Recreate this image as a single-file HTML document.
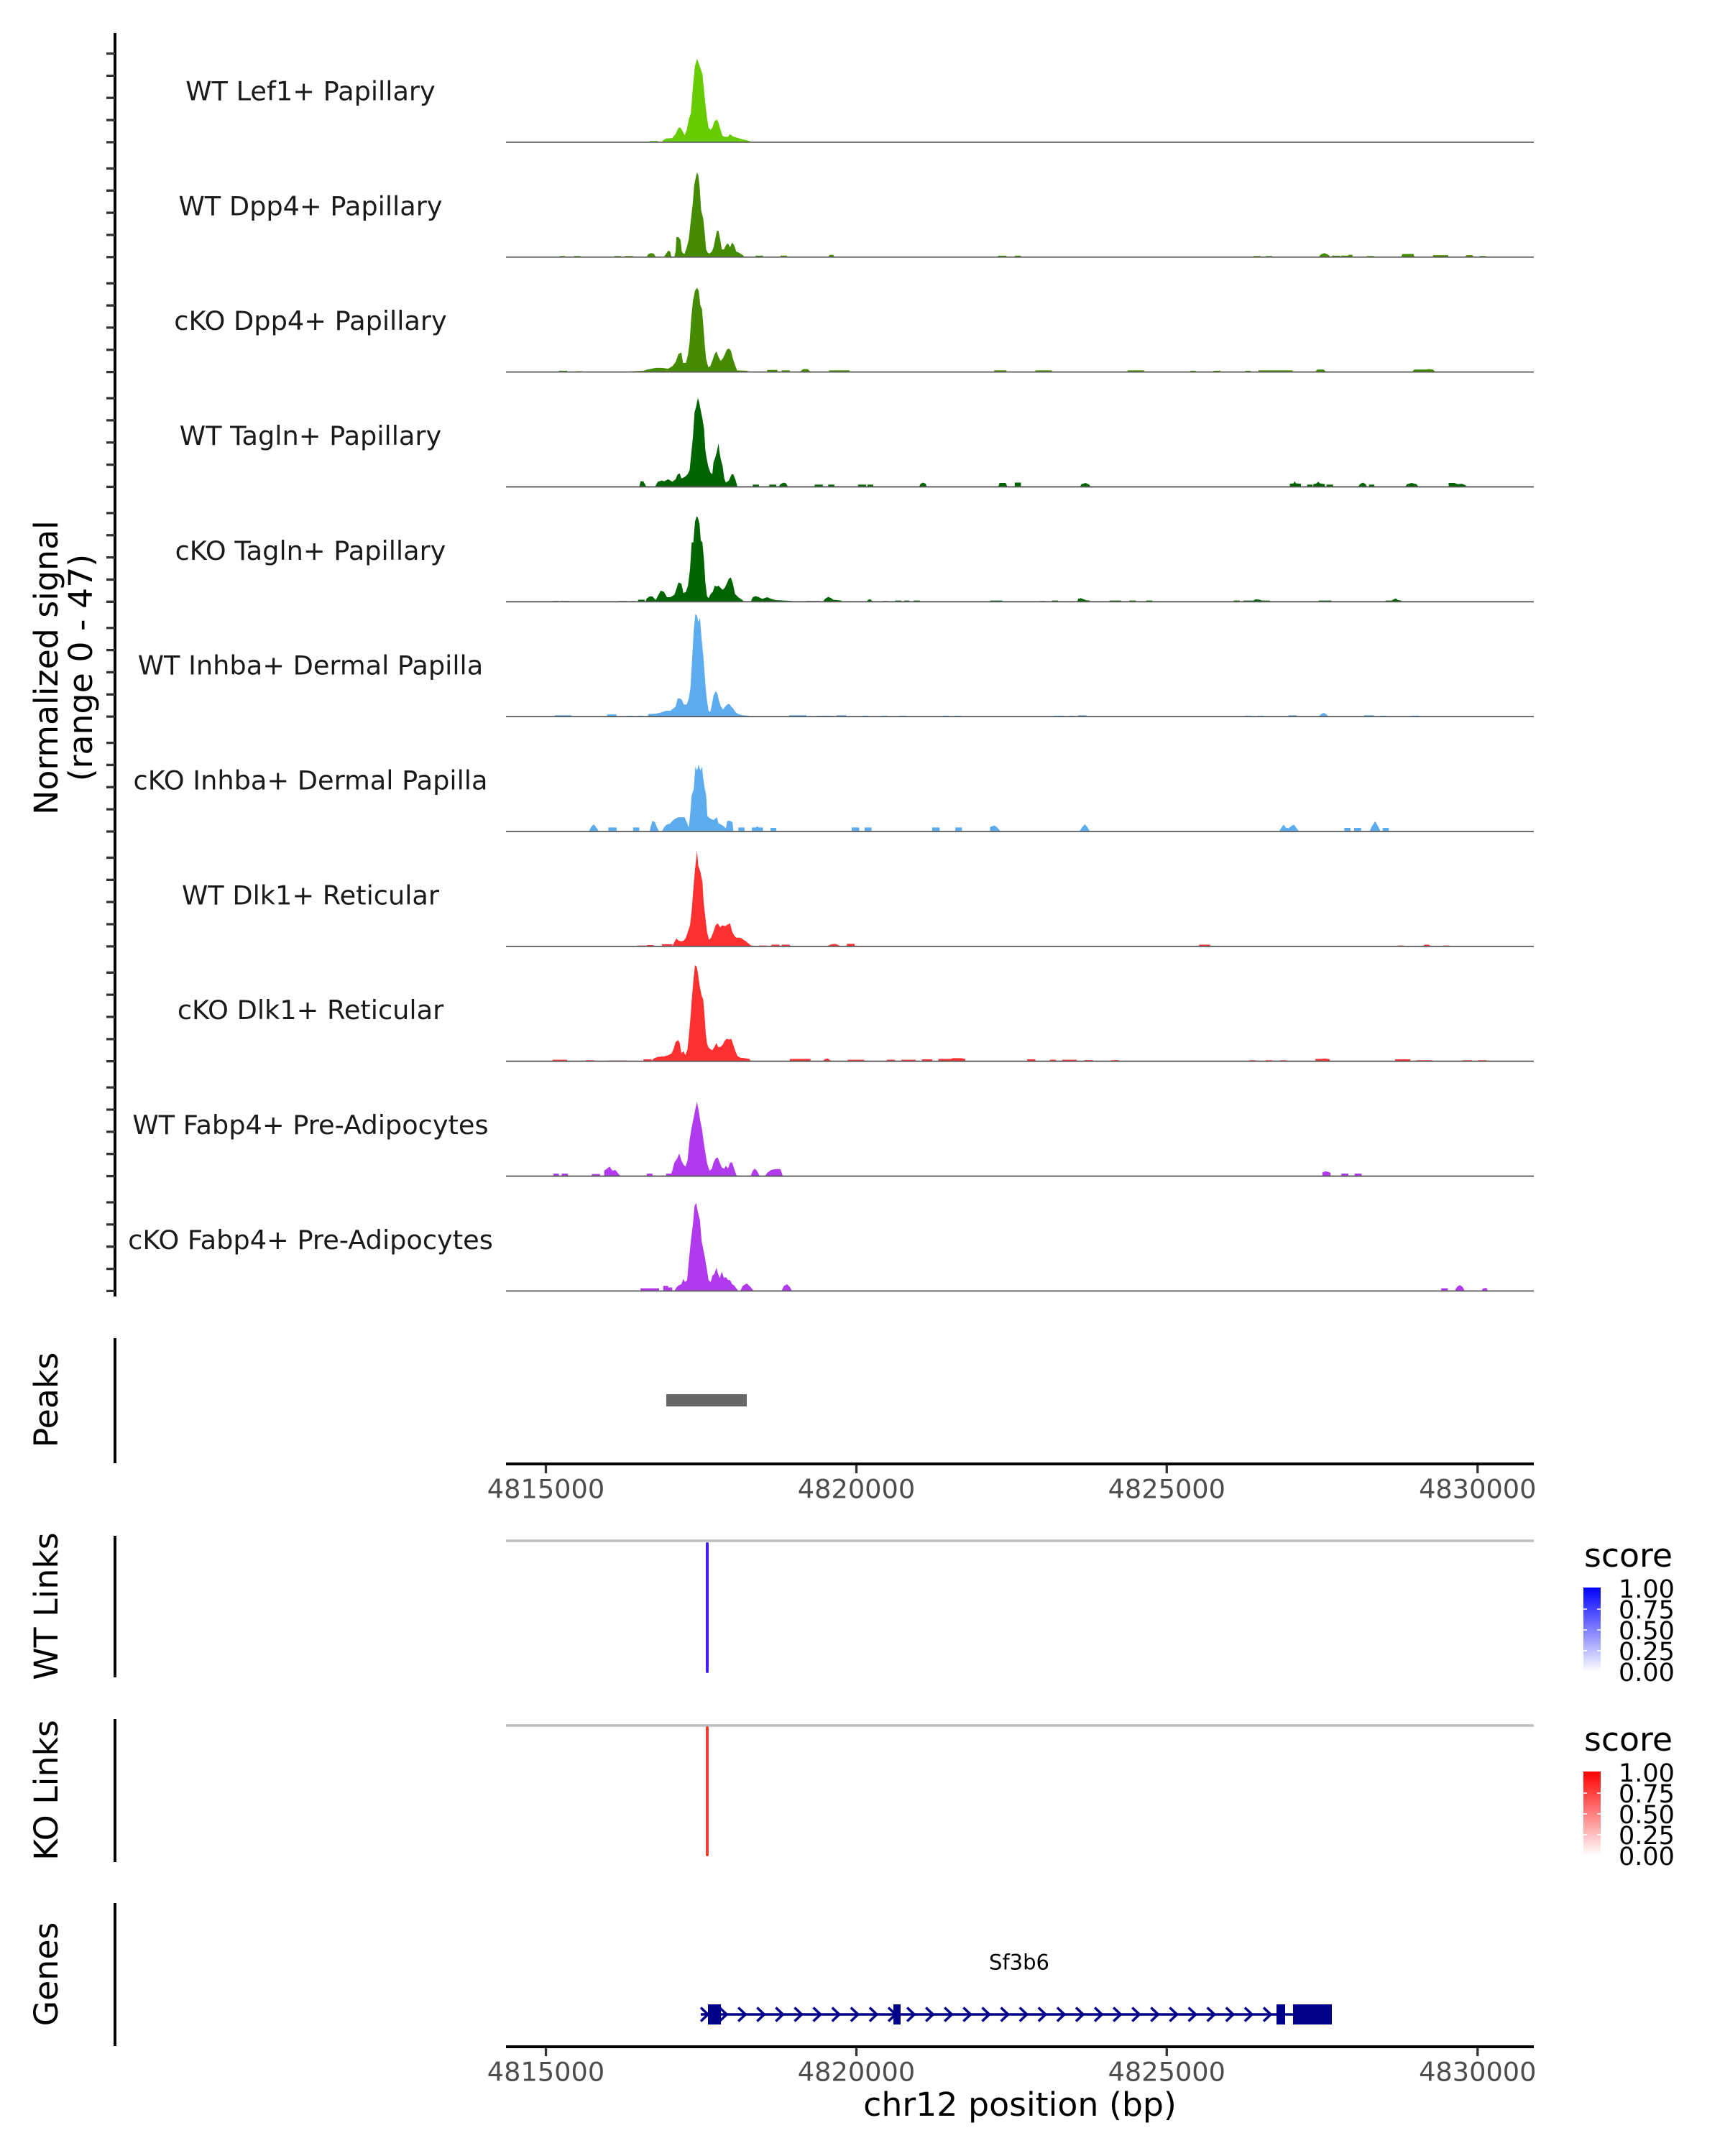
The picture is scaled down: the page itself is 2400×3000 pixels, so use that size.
<!DOCTYPE html>
<html><head><meta charset="utf-8"><style>html,body{margin:0;padding:0;background:#fff}svg{display:block}</style></head><body>
<svg xmlns="http://www.w3.org/2000/svg" width="2400" height="3000" viewBox="0 0 2400 3000" font-family="DejaVu Sans, Liberation Sans, sans-serif">
<defs>
<linearGradient id="gb" x1="0" y1="0" x2="0" y2="1"><stop offset="0" stop-color="#0000FF"/><stop offset="1" stop-color="#FFFFFF"/></linearGradient>
<linearGradient id="gr" x1="0" y1="0" x2="0" y2="1"><stop offset="0" stop-color="#FF0000"/><stop offset="1" stop-color="#FFFFFF"/></linearGradient>
</defs>
<rect width="2400" height="3000" fill="#fff"/>

<!-- Signal tracks, left/main region (zoom coords) -->
<g transform="translate(700,40) scale(0.57405)">
<path fill="#66CC00" d="M355 275V272H375V275Z M385 275L388 270L395 266L410 265L418 255L425 240L430 240L435 248L440 258L445 245L450 220L455 205L460 140L465 90L470 73L473 80L478 95L483 110L487 150L490 180L494 215L498 240L503 245L507 240L512 225L518 220L522 228L527 245L532 260L538 262L545 262L550 255L555 260L560 262L570 265L580 268L590 270L600 273L605 275Z"/>
<path fill="#458B00" d="M137 553V551H150V553Z M172 553V551H187V553Z M270 553V551H285V553Z M295 553V551H315V553Z M348 553L352 546L358 544L365 545L370 553Z M390 553L395 545L400 538L405 540L408 553Z M415 553L418 540L420 505L425 505L430 512L433 540L437 545L440 545L445 530L450 510L456 455L460 420L463 380L467 360L470 348L473 355L476 380L480 440L485 460L489 500L492 535L496 543L500 545L506 540L510 530L514 510L518 490L522 490L526 510L530 535L535 535L540 525L545 520L550 530L555 518L560 525L565 540L572 543L580 548L585 553Z M612 553V550H630V553Z M672 553V550H688V553Z M788 553L792 548L800 548L803 553Z M1200 553V550H1220V553Z M1240 553V550H1255V553Z"/>
<path fill="#458B00" d="M135 831V829H155V831Z M178 831V830H192V831Z M300 831L340 829L350 826L370 822L385 822L400 824L410 818L418 808L425 788L432 785L436 810L443 810L448 790L452 760L456 700L460 660L465 635L470 628L474 635L478 670L482 680L486 730L489 770L492 800L497 820L502 818L507 805L512 790L517 782L522 795L527 805L532 800L537 790L542 778L547 775L552 780L557 800L562 815L567 828L590 829L597 831Z M640 831V827H665V831Z M675 831V828H695V831Z M720 831L727 825L738 825L745 831Z M790 831V828H840V831Z M1190 831V828H1220V831Z M1290 831V828H1330V831Z M1515 831V829H1530V831Z"/>
<path fill="#006400" d="M330 1110L333 1097L340 1097L347 1110Z M368 1110L375 1098L385 1095L390 1097L400 1092L410 1098L418 1092L423 1080L428 1078L432 1090L437 1088L442 1085L447 1080L452 1070L456 1030L460 990L464 930L468 915L472 895L475 905L479 925L483 945L487 970L490 1020L493 1040L497 1060L502 1075L507 1080L510 1050L514 1040L518 1025L522 1005L525 1030L528 1045L532 1060L536 1090L540 1100L547 1095L554 1080L558 1080L563 1093L568 1110Z M605 1110V1105H620V1110Z M645 1110V1105H662V1110Z M668 1110L672 1104L680 1100L686 1102L690 1110Z M755 1110V1105H775V1110Z M788 1110V1105H803V1110Z M860 1110V1105H880V1110Z M883 1110V1105H897V1110Z M1008 1110L1012 1103L1018 1100L1024 1103L1027 1110Z M1200 1110L1203 1101H1218L1222 1110Z M1240 1110V1100H1255V1110Z M1397 1110L1402 1105L1410 1102L1418 1105L1425 1110Z"/>
<path fill="#006400" d="M120 1389V1387H135V1389Z M140 1389V1387H160V1389Z M280 1389V1387H300V1389Z M310 1389V1387H320V1389Z M327 1389V1384H343V1389Z M345 1389L348 1381L355 1376L362 1376L370 1385L375 1375L382 1362L390 1365L397 1378L405 1378L415 1372L420 1358L425 1342L432 1345L437 1368L443 1365L448 1350L453 1310L457 1245L461 1245L465 1195L469 1182L472 1185L476 1200L479 1240L483 1245L487 1290L490 1340L494 1375L498 1380L503 1370L508 1365L513 1350L518 1352L522 1350L527 1355L532 1360L537 1355L542 1345L547 1333L552 1330L557 1345L562 1370L570 1378L580 1385L585 1389Z M600 1389L605 1378L612 1375L620 1378L628 1382L640 1378L650 1382L660 1385L680 1386L700 1387L705 1389Z M735 1389V1387H768V1389Z M775 1389L780 1382L788 1377L795 1380L800 1384L820 1386V1389Z M880 1389L885 1384L890 1383L897 1389Z M920 1389V1387H935V1389Z M950 1389V1386H965V1389Z M972 1389V1386H985V1389Z M995 1389V1386H1010V1389Z M1180 1389V1386H1210V1389Z M1300 1389V1387H1315V1389Z M1330 1389V1386H1345V1389Z M1390 1389L1395 1382L1400 1380L1410 1384L1420 1389Z M1470 1389V1387H1495V1389Z M1520 1389V1387H1535V1389Z"/>
</g>

<g transform="translate(1500,40) scale(0.57405)">
<path fill="#458B00" d="M425 553V551H442V553Z M455 553V551H470V553Z M583 553L590 546L597 544L605 547L612 553Z M615 553V550H635V553Z M637 553V550H655V553Z M655 553V548H665V553Z M700 553V551H717V553Z M783 553L786 546H813L815 553Z M860 553V549H897V553Z M937 553L942 549H955L960 553Z M973 553V551H988V553Z"/>
<path fill="#458B00" d="M120 831V828H160V831Z M272 831V829H285V831Z M328 831V829H345V831Z M405 831V829H418V831Z M437 831V828H520V831Z M575 831L580 826H595L600 831Z M810 831L815 826H845L850 825L860 826L865 831Z"/>
<path fill="#006400" d="M5 1110L8 1104L18 1101L27 1105L30 1110Z M513 1110V1103L522 1102L525 1097L528 1102L540 1103V1110Z M555 1110V1105H568V1110Z M570 1110V1104L578 1102L582 1098L586 1102L598 1104V1110Z M602 1110V1105H618V1110Z M678 1110L683 1104L690 1100L697 1104L700 1110Z M705 1110V1105H718V1110Z M793 1110L797 1104L808 1101L820 1104L825 1110Z M898 1110V1101L912 1101L920 1104L930 1103L940 1107V1110Z"/>
<path fill="#006400" d="M0 1389V1381L8 1382L12 1385L28 1386V1389Z M76 1389V1386H104V1389Z M124 1389V1386H140V1389Z M165 1389V1386H180V1389Z M377 1389V1386H392V1389Z M400 1389V1386H425L430 1383L440 1384L445 1386H465V1389Z M583 1389V1386H614V1389Z M745 1389V1386H760L765 1383L770 1381L775 1385L783 1386V1389Z"/>
</g>

<g transform="translate(700,900) scale(0.57405)">
<path fill="#5CACEE" d="M125 169V166H165V169Z M252 169V164H275V169Z M300 169V167H315V169Z M325 169V167H340V169Z M350 169L352 163L370 162L380 160L395 155L405 155L412 150L418 145L423 125L428 125L433 128L438 140L445 140L450 125L454 100L458 30L462 -40L466 -80L470 -75L473 -60L477 -70L481 -20L485 20L488 60L491 100L494 130L498 155L502 158L506 140L510 118L515 108L519 112L523 130L528 145L533 152L538 145L543 140L548 138L553 145L558 150L563 158L570 163L580 166L595 167L598 169Z M693 169V166H735V169Z M760 169V167H800V169Z M808 169V166H832V169Z M870 169V167H885V169Z M918 169V167H932V169Z M960 169V167H977V169Z M1065 169V167H1080V169Z M1095 169V167H1110V169Z M1335 169V167H1360V169Z M1370 169V167H1385V169Z M1400 169V167H1412V169Z"/>
<path fill="#5CACEE" d="M208 447L213 437L220 430L225 437L232 447Z M255 447V438H275V447Z M315 447V438H330V447Z M355 447L358 435L362 422L368 425L372 436L378 447Z M385 447L390 438L395 432L400 430L405 428L412 420L420 415L425 413L440 413L445 425L450 438L453 410L457 360L462 345L466 290L470 300L474 285L478 300L482 290L485 320L489 345L492 360L495 410L500 415L510 420L518 413L522 428L527 430L535 435L540 440L543 422L550 422L556 425L558 447Z M570 447V438H585V447Z M603 447V438H613L616 435L619 438H630V447Z M648 447V439H662V447Z M845 447V438H863V447Z M876 447V438H893V447Z M1040 447V438H1058V447Z M1096 447V438H1112V447Z M1180 447V437L1190 433L1197 437L1205 447Z M1398 447L1403 438L1410 430L1416 438L1422 447Z"/>
<path fill="#FF3030" d="M325 726V724H345V726Z M348 726V723H365V726Z M385 726V721H410V726Z M410 726L415 716L420 707L425 712L432 714L438 712L443 705L448 690L453 675L457 640L460 600L465 540L470 495L473 530L478 545L483 570L486 620L490 655L494 690L499 710L504 705L510 690L515 675L520 670L526 680L531 675L538 677L545 673L550 670L555 690L560 700L565 705L575 705L583 710L590 715L598 722L605 726Z M620 726V724H640V726Z M650 726V722H670V726Z M675 726V722H695V726Z M785 726L792 722L805 720L815 724V726Z M833 726V720H852V726Z"/>
<path fill="#FF3030" d="M120 1004V1001H155V1004Z M200 1004V1002H220V1004Z M250 1004V1003H300V1004Z M340 1004V1000H360V1004Z M360 1004L365 998L375 994L390 993L400 990L408 986L413 975L418 958L424 953L428 960L432 985L437 980L442 990L447 975L450 945L454 900L458 845L462 800L465 772L469 775L472 790L476 820L481 845L485 855L488 890L491 935L494 960L497 970L502 975L507 978L512 970L517 960L521 970L526 970L532 965L537 955L542 950L548 952L553 950L558 965L563 980L568 992L575 996L585 997L597 999L600 1004Z M695 1004V999H745V1004Z M775 1004L780 999L787 998L795 1004Z M835 1004V1001H875V1004Z M930 1004V1001H950V1004Z M965 1004V1001H1000V1004Z M1015 1004V1000H1040V1004Z M1055 1004V999H1085L1090 997L1110 997L1120 999V1004Z M1270 1004V1000H1290V1004Z M1325 1004V1001H1340V1004Z M1355 1004V1001H1390V1004Z M1410 1004V1002H1430V1004Z M1480 1004V1002H1490V1004Z"/>
<path fill="#B23AEE" d="M122 1283V1277H135V1283Z M142 1283V1277H157V1283Z M215 1283V1278H235V1283Z M245 1283L245 1270L252 1265L258 1260L265 1270L272 1268L280 1278L285 1283Z M348 1283V1277H362V1283Z M395 1283V1277H408V1283Z M405 1283L410 1270L415 1250L422 1240L427 1228L432 1245L437 1255L442 1260L447 1245L452 1195L457 1165L462 1140L466 1120L470 1103L474 1125L478 1150L482 1170L486 1200L490 1225L494 1250L500 1270L506 1265L510 1250L515 1240L520 1238L525 1250L530 1262L536 1265L540 1258L545 1265L550 1250L555 1250L560 1265L565 1280L568 1283Z M600 1283L605 1270L610 1265L615 1270L622 1283Z M635 1283L640 1275L650 1268L660 1266L672 1266L678 1283Z"/>
<path fill="#B23AEE" d="M333 1561V1555H378V1561Z M388 1561V1549H400V1561Z M400 1561V1553H410V1561Z M415 1561L420 1553L425 1548L432 1545L437 1532L441 1540L446 1535L450 1490L455 1440L460 1400L464 1355L468 1348L472 1370L477 1390L481 1440L485 1460L489 1480L494 1510L498 1535L503 1540L507 1525L512 1520L517 1505L521 1520L525 1530L530 1515L535 1530L540 1528L545 1535L550 1535L555 1545L560 1548L565 1555L570 1561Z M575 1561L580 1550L590 1543L600 1552L607 1561Z M675 1561L680 1550L688 1545L695 1552L700 1561Z"/>
</g>

<g transform="translate(1500,900) scale(0.57405)">
<path fill="#5CACEE" d="M0 169V166H20V169Z M405 169V167H420V169Z M435 169V167H450V169Z M510 169V166H530V169Z M583 169L588 164L595 160L602 164L607 169Z M693 169V166H717V169Z M733 169V167H747V169Z M808 169V167H827V169Z"/>
<path fill="#5CACEE" d="M3 447L10 438L17 431L23 438L28 447Z M487 447L493 438L498 431L503 438L510 440L517 434L523 431L528 438L535 447Z M645 447V439H660V447Z M669 447V439H686V447Z M706 447L712 435L720 423L727 435L733 447Z M738 447V439H753V447Z"/>
<path fill="#FF3030" d="M293 726V722H320V726Z M775 726V724H790V726Z M835 726L840 722H850L855 726Z M885 726V724H900V726Z"/>
<path fill="#FF3030" d="M15 1004V1002H35V1004Z M80 1004V1002H100V1004Z M415 1004V1002H430V1004Z M455 1004V1002H470V1004Z M490 1004V1002H505V1004Z M575 1004V999L590 999L598 998L610 1000V1004Z M768 1004V1000H805V1004Z M820 1004V1002H858V1004Z M932 1004V1002H955V1004Z M970 1004V1002H990V1004Z"/>
<path fill="#B23AEE" d="M592 1283V1274L600 1271L606 1273L612 1275V1283Z M638 1283V1277H655V1283Z M670 1283V1277H687V1283Z"/>
<path fill="#B23AEE" d="M880 1561V1555H896V1561Z M913 1561L918 1552L925 1547L932 1552L937 1561Z M977 1561L982 1555L990 1554L993 1561Z"/>
</g>

<!-- track baselines -->
<g stroke="#5a5a5a" stroke-width="1.8">
<line x1="704" x2="2134" y1="197.9" y2="197.9"/>
<line x1="704" x2="2134" y1="357.75" y2="357.75"/>
<line x1="704" x2="2134" y1="517.6" y2="517.6"/>
<line x1="704" x2="2134" y1="677.45" y2="677.45"/>
<line x1="704" x2="2134" y1="837.3" y2="837.3"/>
<line x1="704" x2="2134" y1="997.15" y2="997.15"/>
<line x1="704" x2="2134" y1="1157" y2="1157"/>
<line x1="704" x2="2134" y1="1316.85" y2="1316.85"/>
<line x1="704" x2="2134" y1="1476.7" y2="1476.7"/>
<line x1="704" x2="2134" y1="1636.55" y2="1636.55"/>
<line x1="704" x2="2134" y1="1796.4" y2="1796.4"/>
</g>

<!-- left axes -->
<g stroke="#000" stroke-width="4">
<line x1="160" x2="160" y1="46" y2="1804"/>
<line x1="160" x2="160" y1="1862" y2="2036"/>
<line x1="160" x2="160" y1="2137" y2="2334"/>
<line x1="160" x2="160" y1="2392" y2="2591"/>
<line x1="160" x2="160" y1="2648" y2="2847"/>
</g>
<g stroke="#333" stroke-width="3.3" fill="none">
<path d="M148 197.9H160M148 167.05H160M148 136.2H160M148 105.35H160M148 74.5H160"/>
<path transform="translate(0,159.85)" d="M148 197.9H160M148 167.05H160M148 136.2H160M148 105.35H160M148 74.5H160"/>
<path transform="translate(0,319.7)" d="M148 197.9H160M148 167.05H160M148 136.2H160M148 105.35H160M148 74.5H160"/>
<path transform="translate(0,479.55)" d="M148 197.9H160M148 167.05H160M148 136.2H160M148 105.35H160M148 74.5H160"/>
<path transform="translate(0,639.4)" d="M148 197.9H160M148 167.05H160M148 136.2H160M148 105.35H160M148 74.5H160"/>
<path transform="translate(0,799.25)" d="M148 197.9H160M148 167.05H160M148 136.2H160M148 105.35H160M148 74.5H160"/>
<path transform="translate(0,959.1)" d="M148 197.9H160M148 167.05H160M148 136.2H160M148 105.35H160M148 74.5H160"/>
<path transform="translate(0,1118.95)" d="M148 197.9H160M148 167.05H160M148 136.2H160M148 105.35H160M148 74.5H160"/>
<path transform="translate(0,1278.8)" d="M148 197.9H160M148 167.05H160M148 136.2H160M148 105.35H160M148 74.5H160"/>
<path transform="translate(0,1438.65)" d="M148 197.9H160M148 167.05H160M148 136.2H160M148 105.35H160M148 74.5H160"/>
<path transform="translate(0,1598.5)" d="M148 197.9H160M148 167.05H160M148 136.2H160M148 105.35H160M148 74.5H160"/>
</g>

<!-- track labels -->
<g font-size="36.7" fill="#1A1A1A" text-anchor="middle">
<text x="432" y="139.4">WT Lef1+ Papillary</text>
<text x="432" y="299.25">WT Dpp4+ Papillary</text>
<text x="432" y="459.1">cKO Dpp4+ Papillary</text>
<text x="432" y="618.95">WT Tagln+ Papillary</text>
<text x="432" y="778.8">cKO Tagln+ Papillary</text>
<text x="432" y="938.65">WT Inhba+ Dermal Papilla</text>
<text x="432" y="1098.5">cKO Inhba+ Dermal Papilla</text>
<text x="432" y="1258.35">WT Dlk1+ Reticular</text>
<text x="432" y="1418.2">cKO Dlk1+ Reticular</text>
<text x="432" y="1578.05">WT Fabp4+ Pre-Adipocytes</text>
<text x="432" y="1737.9">cKO Fabp4+ Pre-Adipocytes</text>
</g>

<!-- y titles -->
<g font-size="45.8" fill="#000" text-anchor="middle">
<text transform="translate(80,929) rotate(-90)">Normalized signal</text>
<text transform="translate(128,929) rotate(-90)">(range 0 - 47)</text>
<text transform="translate(80,1948) rotate(-90)">Peaks</text>
<text transform="translate(80,2235) rotate(-90)">WT Links</text>
<text transform="translate(80,2491) rotate(-90)">KO Links</text>
<text transform="translate(80,2747) rotate(-90)">Genes</text>
</g>

<!-- Peaks -->
<rect x="927" y="1940" width="112" height="17" fill="#666666"/>
<line x1="704" x2="2134" y1="2037" y2="2037" stroke="#000" stroke-width="4"/>
<path d="M759.5 2039V2050M1191.5 2039V2050M1623.3 2039V2050M2055.8 2039V2050" stroke="#333" stroke-width="3.3"/>
<g font-size="36.7" fill="#4D4D4D" text-anchor="middle">
<text x="759.5" y="2084.4">4815000</text>
<text x="1191.5" y="2084.4">4820000</text>
<text x="1623.3" y="2084.4">4825000</text>
<text x="2055.8" y="2084.4">4830000</text>
</g>

<!-- Links -->
<line x1="704" x2="2134" y1="2144" y2="2144" stroke="#BEBEBE" stroke-width="3.5"/>
<line x1="984" x2="984" y1="2148" y2="2326" stroke="#4020F0" stroke-width="4" stroke-linecap="round"/>
<line x1="704" x2="2134" y1="2401" y2="2401" stroke="#BEBEBE" stroke-width="3.5"/>
<line x1="984" x2="984" y1="2404" y2="2581" stroke="#F04030" stroke-width="4" stroke-linecap="round"/>

<!-- legends -->
<text x="2204" y="2180" font-size="45.8" fill="#000">score</text>
<rect x="2203" y="2209" width="24" height="117" fill="url(#gb)"/>
<path d="M2203 2239H2208M2222 2239H2227M2203 2268H2208M2222 2268H2227M2203 2297H2208M2222 2297H2227" stroke="#fff" stroke-width="1.5"/>
<g font-size="35" fill="#000">
<text x="2252" y="2222.8">1.00</text>
<text x="2252" y="2251.8">0.75</text>
<text x="2252" y="2280.8">0.50</text>
<text x="2252" y="2309.8">0.25</text>
<text x="2252" y="2338.8">0.00</text>
</g>
<text x="2204" y="2436" font-size="45.8" fill="#000">score</text>
<rect x="2203" y="2465" width="24" height="117" fill="url(#gr)"/>
<path d="M2203 2495H2208M2222 2495H2227M2203 2524H2208M2222 2524H2227M2203 2553H2208M2222 2553H2227" stroke="#fff" stroke-width="1.5"/>
<g font-size="35" fill="#000">
<text x="2252" y="2478.8">1.00</text>
<text x="2252" y="2507.8">0.75</text>
<text x="2252" y="2536.8">0.50</text>
<text x="2252" y="2565.8">0.25</text>
<text x="2252" y="2594.8">0.00</text>
</g>

<!-- Genes -->
<text x="1418" y="2740.6" font-size="29" fill="#000" text-anchor="middle">Sf3b6</text>
<line x1="975" x2="1853" y1="2803" y2="2803" stroke="#00008B" stroke-width="3.5"/>
<g fill="#00008B">
<rect x="985" y="2789" width="18" height="28"/>
<rect x="1243" y="2789" width="10" height="28"/>
<rect x="1776" y="2789" width="12" height="28"/>
<rect x="1799" y="2789" width="54" height="28"/>
</g>
<path fill="none" stroke="#00008B" stroke-width="3.5" d="M975 2793.5L985 2803L975 2812.5 M1001.1 2793.5L1011.1 2803L1001.1 2812.5 M1027.2 2793.5L1037.2 2803L1027.2 2812.5 M1053.3 2793.5L1063.3 2803L1053.3 2812.5 M1079.4 2793.5L1089.4 2803L1079.4 2812.5 M1105.5 2793.5L1115.5 2803L1105.5 2812.5 M1131.6 2793.5L1141.6 2803L1131.6 2812.5 M1157.7 2793.5L1167.7 2803L1157.7 2812.5 M1183.8 2793.5L1193.8 2803L1183.8 2812.5 M1209.9 2793.5L1219.9 2803L1209.9 2812.5 M1236 2793.5L1246 2803L1236 2812.5 M1262.1 2793.5L1272.1 2803L1262.1 2812.5 M1288.2 2793.5L1298.2 2803L1288.2 2812.5 M1314.3 2793.5L1324.3 2803L1314.3 2812.5 M1340.4 2793.5L1350.4 2803L1340.4 2812.5 M1366.5 2793.5L1376.5 2803L1366.5 2812.5 M1392.6 2793.5L1402.6 2803L1392.6 2812.5 M1418.7 2793.5L1428.7 2803L1418.7 2812.5 M1444.8 2793.5L1454.8 2803L1444.8 2812.5 M1470.9 2793.5L1480.9 2803L1470.9 2812.5 M1497 2793.5L1507 2803L1497 2812.5 M1523.1 2793.5L1533.1 2803L1523.1 2812.5 M1549.2 2793.5L1559.2 2803L1549.2 2812.5 M1575.3 2793.5L1585.3 2803L1575.3 2812.5 M1601.4 2793.5L1611.4 2803L1601.4 2812.5 M1627.5 2793.5L1637.5 2803L1627.5 2812.5 M1653.6 2793.5L1663.6 2803L1653.6 2812.5 M1679.7 2793.5L1689.7 2803L1679.7 2812.5 M1705.8 2793.5L1715.8 2803L1705.8 2812.5 M1731.9 2793.5L1741.9 2803L1731.9 2812.5 M1758 2793.5L1768 2803L1758 2812.5"/>

<!-- bottom axis -->
<line x1="704" x2="2134" y1="2848" y2="2848" stroke="#000" stroke-width="4"/>
<path d="M759.5 2850V2861M1191.5 2850V2861M1623.3 2850V2861M2055.8 2850V2861" stroke="#333" stroke-width="3.3"/>
<g font-size="36.7" fill="#4D4D4D" text-anchor="middle">
<text x="759.5" y="2895.4">4815000</text>
<text x="1191.5" y="2895.4">4820000</text>
<text x="1623.3" y="2895.4">4825000</text>
<text x="2055.8" y="2895.4">4830000</text>
</g>
<text x="1419" y="2944" font-size="45.8" fill="#000" text-anchor="middle">chr12 position (bp)</text>
</svg>
</body></html>
